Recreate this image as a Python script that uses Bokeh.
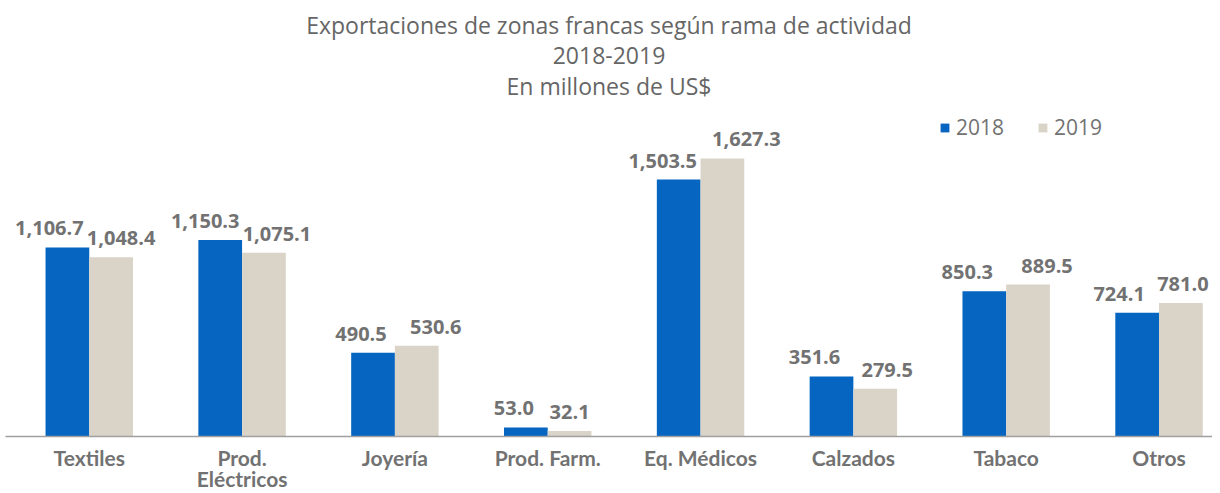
from bokeh.plotting import figure
from bokeh.models import ColumnDataSource, Range1d, FixedTicker, Title, Legend, LegendItem
from bokeh.core.properties import value
from bokeh.embed import file_html
from bokeh.resources import INLINE

categories = ["Textiles", "Prod.\nEléctricos", "Joyería", "Prod. Farm.", "Eq. Médicos", "Calzados", "Tabaco", "Otros"]
values_2018 = [1106.7, 1150.3, 490.5, 53.0, 1503.5, 351.6, 850.3, 724.1]
values_2019 = [1048.4, 1075.1, 530.6, 32.1, 1627.3, 279.5, 889.5, 781.0]
series_names = ["2018", "2019"]
title_lines = ["Exportaciones de zonas francas según rama de actividad", "2018-2019", "En millones de US$"]

# label nudges in pixels (style only)
dx_2018 = [-18, -15, -12, -12, -16, -17, -17, -18]
dx_2019 = [10, 13, 19, 0, 24, 12, 19, 2]

BLUE = "#0565C0"
BEIGE = "#D9D3C8"
GRAY = "#727272"
TITLE_GRAY = "#666666"
FONT = "Open Sans"
LFONT = "Lato"

idx = list(range(len(categories)))
half = 0.143
src18 = ColumnDataSource(dict(x=[i - half for i in idx], top=values_2018, dx=dx_2018,
                              lbl=[f"{v:,.1f}" for v in values_2018]))
src19 = ColumnDataSource(dict(x=[i + half for i in idx], top=values_2019, dx=dx_2019,
                              lbl=[f"{v:,.1f}" for v in values_2019]))

p = figure(width=1212, height=493, output_backend="svg", toolbar_location=None,
           title=None,
           x_range=Range1d(-0.548, 7.350), y_range=Range1d(0, 1949),
           min_border_left=5, min_border_right=0, min_border_top=0, min_border_bottom=40)
for t in reversed(title_lines):
    p.add_layout(Title(text=t, align="center", text_font=FONT, text_font_size="23px",
                       text_font_style="normal", text_color=TITLE_GRAY, standoff=4), "above")
p.add_layout(Title(text=" ", text_font_size="2px", standoff=0), "above")

p.outline_line_color = None
p.grid.visible = False
p.yaxis.visible = False

r18 = p.vbar(x="x", top="top", width=0.286, source=src18, color=BLUE, line_color=None)
r19 = p.vbar(x="x", top="top", width=0.286, source=src19, color=BEIGE, line_color=None)

p.text(x="x", y="top", text="lbl", source=src18, x_offset="dx", y_offset=-19,
       text_align="center", text_baseline="alphabetic", text_font=value(FONT),
       text_font_size="20px", text_font_style="bold", text_color=GRAY)
p.text(x="x", y="top", text="lbl", source=src19, x_offset="dx", y_offset=-19,
       text_align="center", text_baseline="alphabetic", text_font=value(FONT),
       text_font_size="20px", text_font_style="bold", text_color=GRAY)

ax = p.xaxis[0]
ax.ticker = FixedTicker(ticks=idx)
ax.major_label_overrides = {i: c for i, c in zip(idx, categories)}
ax.major_tick_line_color = None
ax.minor_tick_line_color = None
ax.major_tick_out = 0
ax.major_tick_in = 0
ax.axis_label_standoff = 0
ax.axis_line_color = "#A0A0A0"
ax.axis_line_width = 1.5
ax.major_label_standoff = 8
ax.major_label_text_font = LFONT
ax.major_label_text_font_size = "21px"
ax.major_label_text_font_style = "bold"
ax.major_label_text_color = GRAY
ax.major_label_text_line_height = 0.85

legend = Legend(items=[LegendItem(label=series_names[0], renderers=[r18]),
                       LegendItem(label=series_names[1], renderers=[r19])],
                orientation="horizontal", location=(934, 295))
legend.padding = 0
legend.margin = 0
legend.spacing = 33
legend.glyph_width = 11
legend.glyph_height = 11
legend.label_standoff = 6
legend.label_height = 20
legend.label_text_font = FONT
legend.label_text_font_size = "21px"
legend.label_text_color = GRAY
legend.border_line_alpha = 0
legend.background_fill_alpha = 0
p.add_layout(legend, "center")

open("out.html", "w").write(file_html(p, INLINE))
